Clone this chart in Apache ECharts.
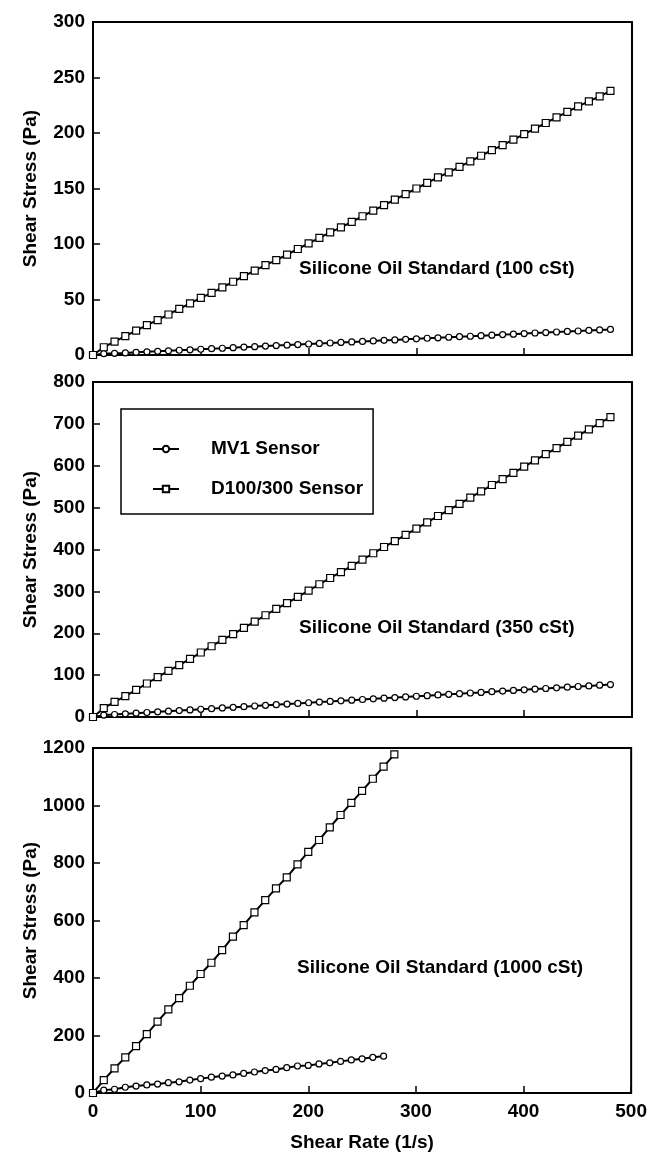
<!DOCTYPE html>
<html>
<head>
<meta charset="utf-8">
<script src="https://cdn.jsdelivr.net/npm/echarts@6/dist/echarts.min.js"></script>
<style>html,body{margin:0;padding:0;background:#fff;}#c{width:650px;height:1161px;}</style>
</head>
<body>
<div id="c"></div>
<script>
// Shear rate (1/s)
const rateFull = [0,10,20,30,40,50,60,70,80,90,100,110,120,130,140,150,160,170,180,190,200,210,220,230,240,250,260,270,280,290,300,310,320,330,340,350,360,370,380,390,400,410,420,430,440,450,460,470,480];
const rateShort = [0,10,20,30,40,50,60,70,80,90,100,110,120,130,140,150,160,170,180,190,200,210,220,230,240,250,260,270,280];

// Panel 1: 100 cSt
const p1_D100 = [0,7,12,17,22,27,31.5,36.5,41.5,46.5,51.5,56,61,66,71,76,81,85.5,90.5,95.5,100.5,105.5,110.5,115,120,125,130,135,140,145,150,155,160,164.5,169.5,174.5,179.5,184.5,189,194,199,204,209,214,219,224,228.5,233,238];
const p1_MV1 = [0,1.2,1.5,1.9,2.4,2.9,3.3,3.8,4.3,4.7,5.2,5.7,6.1,6.6,7.1,7.5,8.0,8.5,8.9,9.4,9.9,10.4,10.8,11.3,11.8,12.2,12.7,13.2,13.6,14.1,14.6,15.1,15.5,16.0,16.5,16.9,17.4,17.9,18.4,18.8,19.3,19.8,20.2,20.7,21.2,21.6,22.1,22.6,23.0];

// Panel 2: 350 cSt
const p2_D100 = [0,21,36,50,65,80,95,110,124,139,154,169,184,198,213,228,243,258,272,287,302,317,332,346,361,376,391,406,420,435,450,465,480,494,509,524,539,554,568,583,598,613,628,642,657,672,687,702,716];
const p2_MV1 = [0,4.5,6,7.7,9.2,10.8,12.3,13.9,15.4,17,18.5,20,21.6,23.2,24.7,26.3,27.8,29.4,30.9,32.5,34,35.6,37.1,38.7,40.2,41.8,43.3,44.9,46.4,48,49.5,51,52.6,54.2,55.7,57.3,58.8,60.4,61.9,63.5,65,66.6,68.1,69.7,71.2,72.8,74.3,75.9,77.4];

// Panel 3: 1000 cSt
const p3_D100 = [0,45,86,124,163,205,248,291,330,373,414,453,497,544,584,628,671,712,750,795,839,880,924,967,1009,1051,1093,1135,1178];
const p3_MV1 = [0,10,13,20,24,28,31,36,39,45,50,55,59,63,68,73,78,82,88,94,96,101,105,110,115,119,124,128];

const yMax = [300, 800, 1200];
const yStep = [50, 100, 200];
const panelLabels = ['Silicone Oil Standard (100 cSt)', 'Silicone Oil Standard (350 cSt)', 'Silicone Oil Standard (1000 cSt)'];
const seriesNames = ['MV1 Sensor', 'D100/300 Sensor'];
const xName = 'Shear Rate (1/s)';
const yName = 'Shear Stress (Pa)';

const FONT = 'Liberation Sans';
const fontBase = {fontFamily: FONT, fontSize: 19, fontWeight: 'bold', color: '#000'};

function pairs(xs, ys) { return ys.map((v, i) => [xs[i], v]); }
const plain = v => String(v);

const grids = [
  {left: 93, right: 18, top: 22, height: 333},
  {left: 93, right: 18, top: 382, height: 335},
  {left: 93, right: 18, top: 748, height: 345}
].map(g => Object.assign(g, {show: true, borderColor: '#000', borderWidth: 2, containLabel: false}));

const xAxes = [0,1,2].map(i => ({
  type: 'value', gridIndex: i, min: 0, max: 500, interval: 100,
  name: i === 2 ? xName : '', nameLocation: 'middle', nameGap: 40,
  nameMoveOverlap: false,
  nameTextStyle: fontBase,
  axisLine: {show: true, lineStyle: {color: '#000', width: 2}},
  axisTick: {show: true, inside: true, length: 7, lineStyle: {color: '#000', width: 1.5}},
  axisLabel: {show: i === 2, margin: 9, formatter: plain, ...fontBase},
  splitLine: {show: false}
}));

const yAxes = [0,1,2].map(i => ({
  type: 'value', gridIndex: i, min: 0, max: yMax[i], interval: yStep[i],
  name: yName, nameLocation: 'middle', nameGap: 53,
  nameMoveOverlap: false,
  nameTextStyle: fontBase,
  axisLine: {show: true, lineStyle: {color: '#000', width: 2}},
  axisTick: {show: true, inside: true, length: 7, lineStyle: {color: '#000', width: 1.5}},
  axisLabel: {margin: 8, formatter: plain, ...fontBase},
  splitLine: {show: false}
}));

function mk(name, i, xs, ys, symbol, size) {
  return {
    name: name, type: 'line', xAxisIndex: i, yAxisIndex: i,
    data: pairs(xs, ys), symbol: symbol, symbolSize: size, showSymbol: true,
    lineStyle: {color: '#000', width: 2},
    itemStyle: {color: '#fff', borderColor: '#000', borderWidth: 1.2},
    animation: false, z: 3
  };
}

const series = [
  mk(seriesNames[0], 0, rateFull, p1_MV1, 'circle', 6),
  mk(seriesNames[1], 0, rateFull, p1_D100, 'rect', 7),
  mk(seriesNames[0], 1, rateFull, p2_MV1, 'circle', 6),
  mk(seriesNames[1], 1, rateFull, p2_D100, 'rect', 7),
  mk(seriesNames[0], 2, rateShort.slice(0, p3_MV1.length), p3_MV1, 'circle', 6),
  mk(seriesNames[1], 2, rateShort, p3_D100, 'rect', 7)
];

const graphics = [
  {type: 'text', left: 299, top: 259, style: {text: panelLabels[0], font: 'bold 19px ' + FONT, fill: '#000'}},
  {type: 'text', left: 299, top: 618, style: {text: panelLabels[1], font: 'bold 19px ' + FONT, fill: '#000'}},
  {type: 'text', left: 297, top: 958, style: {text: panelLabels[2], font: 'bold 19px ' + FONT, fill: '#000'}}
];

const chart = echarts.init(document.getElementById('c'), null, {renderer: 'canvas'});
chart.setOption({
  backgroundColor: '#fff',
  animation: false,
  grid: grids,
  xAxis: xAxes,
  yAxis: yAxes,
  legend: {
    data: seriesNames,
    orient: 'vertical',
    left: 121, top: 409,
    padding: [30, 10, 15, 31],
    itemGap: 20,
    itemWidth: 26, itemHeight: 8,
    borderColor: '#000', borderWidth: 1.5,
    backgroundColor: '#fff',
    selectedMode: false,
    textStyle: {...fontBase, lineHeight: 20, padding: [0, 0, 0, 27]}
  },
  graphic: graphics,
  series: series
});
</script>
</body>
</html>
